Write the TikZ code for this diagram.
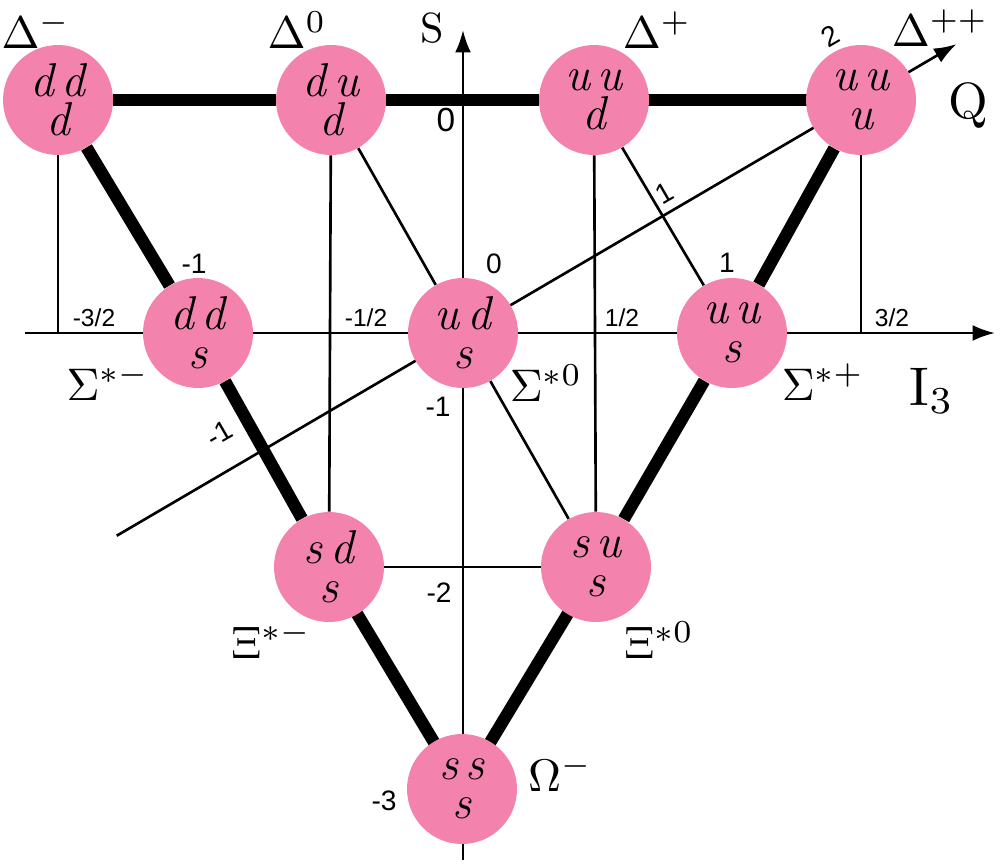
\documentclass[tikz,border=0pt]{standalone}
\usepackage{fontspec}
\newfontfamily\numfont{Liberation Sans}
\usetikzlibrary{arrows.meta, calc, backgrounds}
\definecolor{quarkpink}{RGB}{243,131,172}

\begin{document}
\begin{tikzpicture}[
    x=0.02cm, y=-0.02cm,
    quark/.style={circle, fill=quarkpink, minimum size=2.2cm, inner sep=0pt, align=center, font=\fontsize{27}{22}\selectfont\itshape},
    edge/.style={line width=7pt, shorten <=-4pt, shorten >=-4pt},
    thinline/.style={line width=1.5pt},
    axis/.style={line width=1.5pt, -{Latex[length=4.5mm, width=3.2mm]}},
    particle/.style={scale=2.6},
    tick/.style={font=\numfont\fontsize{16}{18}\selectfont},
    frac/.style={font=\numfont\fontsize{14}{16}\selectfont}
]
\useasboundingbox (0,0) rectangle (1000,865);

% the baryon decuplet
\node[quark] (dm)  at (58,100)  {d\,d\\d};
\node[quark] (dz)  at (331,100) {d\,u\\d};
\node[quark] (dp)  at (594,100) {u\,u\\d};
\node[quark] (dpp) at (861,100) {u\,u\\u};
\node[quark] (sm)  at (198,333) {d\,d\\s};
\node[quark] (sz)  at (463,333) {u\,d\\s};
\node[quark] (sp)  at (732,333) {u\,u\\s};
\node[quark] (xm)  at (329,567) {s\,d\\s};
\node[quark] (xz)  at (596,567) {s\,u\\s};
\node[quark] (om)  at (462,789) {s\,s\\s};

\begin{scope}[on background layer]
\coordinate (ileft) at (25,333);
\coordinate (iright) at (995,333);
\coordinate (sbot) at (463,860);
\coordinate (stop) at (463,30);
\coordinate (qstart) at ($(sz)!-0.87!(dpp)$);
\coordinate (qend) at ($(sz)!1.24!(dpp)$);

\draw[axis] (ileft) -- (iright);
\draw[axis] (sbot) -- (stop);
\draw[axis] (qstart) -- (qend);

\draw[thinline] (dm) -- (dm |- sm);
\draw[thinline] (dpp) -- (dpp |- sp);
\draw[thinline] (dz) -- (xm);
\draw[thinline] (dp) -- (xz);
\draw[thinline] (dz) -- (sz);
\draw[thinline] (dp) -- (sp);
\draw[thinline] (sz) -- (xz);
\draw[thinline] (xm) -- (xz);

\draw[edge] (dm) -- (dz) -- (dp) -- (dpp);
\draw[edge] (dm) -- (sm) -- (xm) -- (om);
\draw[edge] (dpp) -- (sp) -- (xz) -- (om);
\end{scope}

% axis names
\node[scale=2.4] (slabel) at (432,28) {S};
\node[scale=2.9] (qlabel) at (968,105) {Q};
\node[scale=3.1] (ilabel) at (932,391) {I$_3$};

% particle names
\node[particle] (ndm)  at (36,30)  {$\Delta^{-}$};
\node[particle] (ndz)  at (297,30) {$\Delta^{0}$};
\node[particle] (ndp)  at (657,30) {$\Delta^{+}$};
\node[particle] (ndpp) at (940,28) {$\Delta^{++}$};
\node[particle] (nsm)  at (108,382) {$\Sigma^{*-}$};
\node[particle] (nsz)  at (546,383) {$\Sigma^{*0}$};
\node[particle] (nsp)  at (823,382) {$\Sigma^{*+}$};
\node[particle] (nxm)  at (271,640) {$\Xi^{*-}$};
\node[particle] (nxz)  at (659,640) {$\Xi^{*0}$};
\node[particle] (nom)  at (560,773) {$\Omega^{-}$};

% I3 values
\node[frac] (im3) at (94,318)  {-3/2};
\node[frac] (im1) at (366,318) {-1/2};
\node[frac] (ip1) at (622,318) {1/2};
\node[frac] (ip3) at (892,318) {3/2};

% S values
\node[tick, font=\numfont\fontsize{19}{21}\selectfont] (s0) at (446,120) {0};
\node[tick] (s1)  at (438,407) {-1};
\node[tick] (s2)  at (439,593) {-2};
\node[tick] (s3)  at (384,801) {-3};

% charges
\node[tick] (qm)  at (194,264) {-1};
\node[tick] (qz)  at (494,264) {0};
\node[tick] (qp)  at (727,263) {1};
\node[tick, rotate=30] (qtm) at (219,434) {-1};
\node[tick, rotate=30] (qtp) at (664,193) {1};
\node[tick, rotate=30] (qtt) at (830,36)  {2};

\end{tikzpicture}
\end{document}
